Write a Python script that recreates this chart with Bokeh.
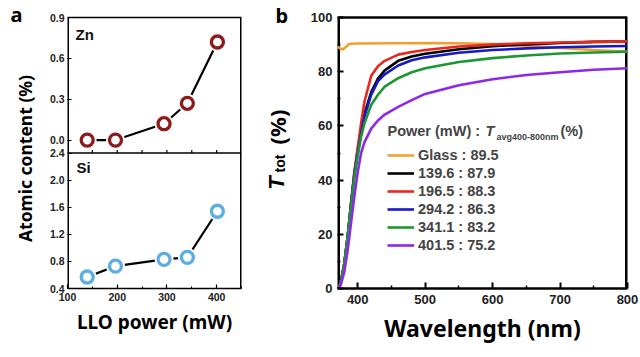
import numpy as np
from bokeh.plotting import figure
from bokeh.layouts import row
from bokeh.models import (Label, Legend, LegendItem, FixedTicker, Range1d,
                          CustomJSTickFormatter)
from bokeh.embed import file_html
from bokeh.resources import INLINE
from bokeh.core.properties import value

# ---------------- data (panel a) ----------------
power_mw = [139.6, 196.5, 294.2, 341.1, 401.5]
zn_content = [0.0, 0.0, 0.12, 0.27, 0.72]
si_content = [0.57, 0.73, 0.83, 0.86, 1.54]
a_xlim = [100, 450]
a_xticks = [100, 200, 300, 400]
a_xminor = [150, 250, 350, 450]
zn_ticks = [0.0, 0.3, 0.6, 0.9]
si_ticks = [0.4, 0.8, 1.2, 1.6, 2.0, 2.4]

# ---------------- data (panel b) ----------------
wavelength = [372, 375, 380, 385, 390, 395, 400, 405, 410, 420, 430, 440, 460, 480,
              500, 550, 600, 650, 700, 750, 800]
t_139 = [0, 2.5, 9, 19, 31, 42.5, 51, 58, 64.5, 72.5, 77.5, 80.5, 84.0, 85.6,
         86.6, 88.3, 89.4, 90.1, 90.6, 91.0, 91.2]
t_196 = [0, 2.5, 9, 19, 31, 43, 52, 61, 69, 78.5, 82, 84, 86.3, 87.3,
         88.0, 89.3, 90.0, 90.5, 90.8, 91.0, 91.2]
t_294 = [0, 2.5, 9, 19, 31, 42, 50, 57, 63.5, 71.5, 76.5, 79, 82.3, 84.2,
         85.3, 87.0, 88.0, 88.6, 89.0, 89.3, 89.5]
t_341 = [0, 2.5, 9, 19, 30.5, 41, 49, 56, 61, 67.8, 71.5, 74.5, 77.6, 79.8,
         81.3, 83.6, 85.0, 86.0, 86.7, 87.1, 87.4]
t_401 = [0, 1.5, 6, 14, 24, 34, 43, 50, 54, 59, 62, 64.2, 67, 69.5,
         71.8, 75.0, 77.2, 78.8, 79.8, 80.7, 81.3]
glass_wl = [370, 374, 378, 382, 386, 390, 400, 450, 500, 550, 600, 650, 700, 750, 800]
t_glass = [89.2, 88.6, 88.2, 89.0, 90.0, 90.3, 90.4, 90.5, 90.6, 90.5, 90.2, 89.6, 88.8, 88.0, 87.3]
legend_names = ["Glass", "139.6", "196.5", "294.2", "341.1", "401.5"]
t_avg = [89.5, 87.9, 88.3, 86.3, 83.2, 75.2]
b_xlim = [370, 800]
b_ylim = [0, 100]
b_xticks = [400, 500, 600, 700, 800]
b_xminor = [450, 550, 650, 750]
b_yticks = [0, 20, 40, 60, 80, 100]
b_yminor = [10, 30, 50, 70, 90]

FONT = "Liberation Sans"
LFONT = "Noto Sans"
H = 357
BOTTOM = 69          # bottom border shared by all figures
FRAME_H = H - BOTTOM  # frames run from the top of the canvas
BOX_TOP = 17         # pixel row of the visible box top


def label_fig(w):
    f = figure(width=w, height=H, x_range=Range1d(0, w), y_range=Range1d(BOTTOM, H),
               x_axis_type=None, y_axis_type=None, title=None,
               min_border_left=0, min_border_right=0, min_border_top=0,
               min_border_bottom=BOTTOM, toolbar_location=None, output_backend="svg")
    f.grid.visible = False
    f.outline_line_color = None
    return f


# ================= label strip for panel a =================
la = label_fig(46)
la.text(x=[10], y=[H - 14], text=["a"], text_font=value(LFONT), text_font_style="bold",
        text_font_size="20px", text_baseline="alphabetic", text_align="left")
la.text(x=[24], y=[H - 158], text=["Atomic content (%)"], angle=np.pi / 2,
        text_font=value(LFONT), text_font_style="bold", text_font_size="17.5px",
        text_baseline="alphabetic", text_align="center")

# ================= panel a =================
box_h = FRAME_H - BOX_TOP
half = box_h / 2.0
si_lo, si_div = si_ticks[0], si_ticks[-1]
si_per_px = (si_div - si_lo) / half
main_lo, main_hi = si_lo, si_lo + FRAME_H * si_per_px
si_top = si_lo + box_h * si_per_px
zn_top_val, zn_div_val = zn_ticks[-1], -0.095
zn_per_px = (zn_top_val - zn_div_val) / half
zn_lo = zn_top_val - box_h * zn_per_px
zn_hi = zn_top_val + BOX_TOP * zn_per_px


def zn_to_main(v):
    return main_lo + (v - zn_lo) / (zn_hi - zn_lo) * (main_hi - main_lo)


pa = figure(width=197, height=H, x_range=Range1d(*a_xlim), y_range=Range1d(main_lo, main_hi),
            title=None, min_border_left=20, min_border_right=2, min_border_top=0,
            min_border_bottom=BOTTOM, toolbar_location=None, output_backend="svg")
pa.extra_y_ranges = {"zn": Range1d(zn_lo, zn_hi)}
pa.grid.visible = False
pa.outline_line_color = None

pa.yaxis.ticker = FixedTicker(ticks=si_ticks + [zn_to_main(v) for v in zn_ticks])
pa.yaxis.formatter = CustomJSTickFormatter(
    args=dict(mlo=main_lo, mhi=main_hi, zlo=zn_lo, zhi=zn_hi, div=si_div),
    code="""
    if (tick > div + 0.05) {
        let v = zlo + (tick - mlo) / (mhi - mlo) * (zhi - zlo);
        if (Math.abs(v) < 1e-6) { v = 0; }
        return v.toFixed(1);
    }
    return tick.toFixed(1);
    """)
pa.xaxis.ticker = FixedTicker(ticks=a_xticks, minor_ticks=a_xminor)
for ax in (pa.xaxis[0], pa.yaxis[0]):
    ax.major_tick_in = 4
    ax.major_tick_out = 0
    ax.minor_tick_in = 2
    ax.minor_tick_out = 0
    ax.axis_line_width = 1.5
    ax.major_tick_line_width = 1.2
    ax.major_label_text_font = FONT
    ax.major_label_text_font_style = "bold"
    ax.major_label_text_font_size = "10.5px"
    ax.major_label_text_color = "#222222"
pa.yaxis.axis_line_color = None
pa.xaxis.major_label_standoff = 4
pa.yaxis.major_label_standoff = 3
pa.xaxis.axis_label = "LLO power (mW)"
pa.xaxis.axis_label_text_font = LFONT
pa.xaxis.axis_label_text_font_style = "bold"
pa.xaxis.axis_label_text_font_size = "19px"
pa.xaxis.axis_label_text_color = "black"
pa.xaxis.axis_label_standoff = 5

# visible box of panel a (left/right edges sit on the frame edges)
pa.segment(x0=[a_xlim[0], a_xlim[1]], y0=[main_lo, main_lo], x1=[a_xlim[0], a_xlim[1]],
           y1=[si_top, si_top], line_color="black", line_width=3)
pa.segment(x0=[a_xlim[0], a_xlim[0]], y0=[si_top, si_div], x1=[a_xlim[1], a_xlim[1]],
           y1=[si_top, si_div], line_color="black", line_width=1.5)
div_ticks = a_xticks[1:] + a_xminor[:-1]
pa.segment(x0=div_ticks, y0=[si_div] * len(div_ticks), x1=div_ticks,
           y1=[si_div + 3 * si_per_px] * len(div_ticks), line_color="black", line_width=1.2)

zn_red = "#8E1B1B"
si_blue = "#5AAEE3"
pa.line(power_mw, zn_content, y_range_name="zn", line_color="black", line_width=2.2)
pa.scatter(power_mw, zn_content, y_range_name="zn", size=12, fill_color="white",
           line_color="white", line_width=7)
pa.scatter(power_mw, zn_content, y_range_name="zn", size=12, fill_color="white",
           line_color=zn_red, line_width=3.3)
pa.line(power_mw, si_content, line_color="black", line_width=2.2)
pa.scatter(power_mw, si_content, size=12, fill_color="white", line_color="white", line_width=7)
pa.scatter(power_mw, si_content, size=12, fill_color="white", line_color=si_blue, line_width=3.3)

pa.add_layout(Label(x=8, y=246, x_units="screen", y_units="screen", text="Zn",
                    text_font=FONT, text_font_style="bold", text_font_size="15px",
                    text_color="#111111"))
pa.add_layout(Label(x=9, y=113, x_units="screen", y_units="screen", text="Si",
                    text_font=FONT, text_font_style="bold", text_font_size="15px",
                    text_color="#111111"))

# ================= label strip for panel b =================
lb = label_fig(59)
lb.text(x=[32], y=[H - 15], text=["b"], text_font=value(LFONT), text_font_style="bold",
        text_font_size="20px", text_baseline="alphabetic", text_align="left")
lb.text(x=[33], y=[H - 182.5], text=["T"], angle=np.pi / 2, text_font=value(FONT),
        text_font_style="bold italic", text_font_size="22px",
        text_baseline="alphabetic", text_align="center")
lb.text(x=[36], y=[H - 163], text=["tot"], angle=np.pi / 2, text_font=value(FONT),
        text_font_style="bold", text_font_size="14px",
        text_baseline="alphabetic", text_align="center")
lb.text(x=[33], y=[H - 126.5], text=["(%)"], angle=np.pi / 2, text_font=value(LFONT),
        text_font_style="bold", text_font_size="22px",
        text_baseline="alphabetic", text_align="center")

# ================= panel b =================
b_per_px = (b_ylim[1] - b_ylim[0]) / box_h
pb = figure(width=338, height=H, x_range=Range1d(*b_xlim),
            y_range=Range1d(b_ylim[0], b_ylim[0] + FRAME_H * b_per_px),
            title=None, min_border_left=35, min_border_right=13, min_border_top=0,
            min_border_bottom=BOTTOM, toolbar_location=None, output_backend="svg")
pb.grid.visible = False
pb.outline_line_color = None
pb.xaxis.ticker = FixedTicker(ticks=b_xticks, minor_ticks=b_xminor)
pb.yaxis.ticker = FixedTicker(ticks=b_yticks, minor_ticks=b_yminor)
for ax in (pb.xaxis[0], pb.yaxis[0]):
    ax.major_tick_in = 6
    ax.major_tick_out = 0
    ax.minor_tick_in = 3
    ax.minor_tick_out = 0
    ax.axis_line_width = 2.5
    ax.major_tick_line_width = 2
    ax.minor_tick_line_width = 1.5
    ax.major_label_text_font = FONT
    ax.major_label_text_font_style = "bold"
    ax.major_label_text_font_size = "13px"
    ax.major_label_text_color = "#222222"
pb.yaxis.axis_line_color = None
pb.xaxis.major_label_standoff = 6
pb.yaxis.major_label_standoff = 5
pb.xaxis.axis_label = "Wavelength (nm)"
pb.xaxis.axis_label_text_font = LFONT
pb.xaxis.axis_label_text_font_style = "bold"
pb.xaxis.axis_label_text_font_size = "23px"
pb.xaxis.axis_label_text_color = "black"
pb.xaxis.axis_label_standoff = 5

# visible box of panel b
pb.segment(x0=[b_xlim[0], b_xlim[1]], y0=[b_ylim[0], b_ylim[0]], x1=[b_xlim[0], b_xlim[1]],
           y1=[b_ylim[1], b_ylim[1]], line_color="black", line_width=5)
pb.segment(x0=[b_xlim[0]], y0=[b_ylim[1]], x1=[b_xlim[1]], y1=[b_ylim[1]],
           line_color="black", line_width=2.5)

colors = ["#F0A030", "black", "#E8281E", "#1818C8", "#1E9632", "#8C28E6"]
curves = [(glass_wl, t_glass), (wavelength, t_139), (wavelength, t_196),
          (wavelength, t_294), (wavelength, t_341), (wavelength, t_401)]
renderers = []
for (wl, tt), c in zip(curves, colors):
    renderers.append(pb.line(wl, tt, line_color=c, line_width=2.6))

items = [LegendItem(label=f"{n} : {a}", renderers=[r])
         for n, a, r in zip(legend_names, t_avg, renderers)]
leg = Legend(items=items, location=(50, 34), orientation="vertical",
             background_fill_alpha=0, border_line_color=None, padding=0, margin=0,
             spacing=0, glyph_width=27, glyph_height=18, label_height=18,
             label_standoff=4, label_text_font=FONT, label_text_font_style="bold",
             label_text_font_size="14.5px")
pb.add_layout(leg)

# legend title with subscript
pb.add_layout(Label(x=50, y=150, x_units="screen", y_units="screen", text="Power (mW) :",
                    text_font=FONT, text_font_style="bold", text_font_size="14.5px"))
pb.add_layout(Label(x=148, y=150, x_units="screen", y_units="screen", text="T",
                    text_font=FONT, text_font_style="bold italic", text_font_size="14.5px"))
pb.add_layout(Label(x=159, y=147, x_units="screen", y_units="screen", text="avg400-800nm",
                    text_font=FONT, text_font_style="bold", text_font_size="9px"))
pb.add_layout(Label(x=223, y=150, x_units="screen", y_units="screen", text="(%)",
                    text_font=FONT, text_font_style="bold", text_font_size="14.5px"))

layout = row(la, pa, lb, pb)
open("out.html", "w").write(file_html(layout, INLINE))
